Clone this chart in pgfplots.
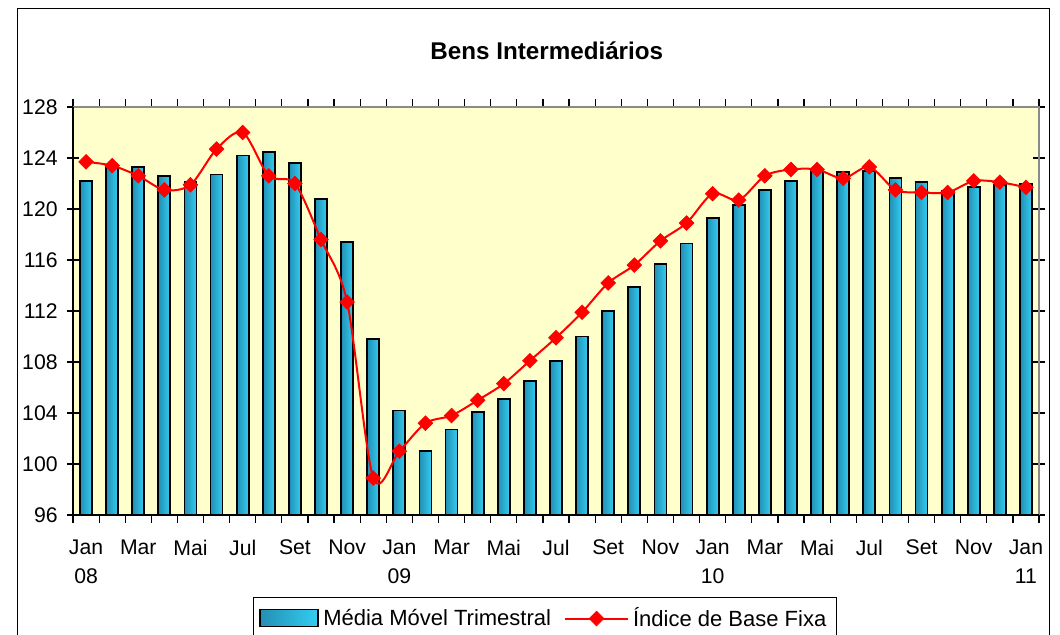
\documentclass[border=0pt]{standalone}
\usepackage{pgfplots}
\pgfplotsset{compat=1.18}
\usepackage{fontspec}
\setmainfont{Liberation Sans}
\definecolor{bgY}{HTML}{FFFFCC}
\definecolor{barD}{HTML}{2290B4}
\definecolor{barL}{HTML}{34CDF2}
\definecolor{boxG}{HTML}{8A8A8A}
\pgfplotsset{
  barleg/.style={legend image code/.code={\draw[draw=black,line width=0.9pt,left color=barD,right color=barL] (0pt,-4pt) rectangle (29pt,4.5pt);}},
  lineleg/.style={legend image code/.code={\draw[##1, mark repeat=2, mark phase=2] plot coordinates {(0pt,0pt) (15.75pt,0pt) (31.5pt,0pt)};}},
}
\begin{document}
\begin{tikzpicture}
\clip (0pt,0pt) rectangle (530pt,-317.5pt);
\draw[black, line width=0.6pt] (8.85pt,-4.15pt) rectangle (524.85pt,-340pt);
\node[font=\fontsize{12.1}{15}\selectfont\bfseries, anchor=base] at (273.4pt,-30pt) {Bens Intermediários};
\begin{axis}[
  at={(36.5pt,-257.5pt)}, anchor=south west,
  scale only axis, width=483pt, height=204pt,
  xmin=-0.5, xmax=36.5, ymin=96, ymax=128,
  clip mode=individual,
  axis background/.style={fill=bgY},
  axis line style={draw=none},
  ytick={96,100,...,128},
  xtick={0,2,...,36},
  xticklabels={Jan\\08,Mar,Mai,Jul,Set,Nov,Jan\\09,Mar,Mai,Jul,Set,Nov,Jan\\10,Mar,Mai,Jul,Set,Nov,Jan\\11},
  minor xtick={-0.5,0.5,...,36.5},
  major x tick style={draw=none},
  minor x tick style={black, line width=0.6pt},
  major y tick style={black, line width=0.6pt},
  xtick align=outside, ytick align=center,
  major tick length=6pt, minor tick length=3.75pt,
  /pgf/number format/assume math mode=true,
  tick label style={font=\fontsize{10.6}{14.5}\selectfont},
  xticklabel style={align=center, anchor=north, inner sep=0pt, yshift=-6.3pt},
  yticklabel style={anchor=east, inner sep=0pt, xshift=-4.5pt},
  legend style={at={(0.1863,-0.201)}, anchor=north west, draw=black, line width=0.5pt,
    font=\fontsize{11}{13}\selectfont, inner xsep=3pt, inner ysep=3pt,
    /tikz/every even column/.append style={column sep=4.5pt}},
  legend columns=2, legend cell align=left,
]
\addplot[scatter, only marks, mark=*, mark size=0pt, draw=none, fill=none,
  point meta=y, point meta min=96, point meta max=128,
  scatter/@pre marker code/.code={%
    \pgfmathsetmacro\barh{\pgfplotspointmetatransformed*0.204}%
    \shade[left color=barD, right color=barL] (-3pt,0pt) rectangle (3pt,-\barh pt);%
    \draw[black, line width=0.9pt] (-3pt,-\barh pt) -- (-3pt,0pt) -- (3pt,0pt) -- (3pt,-\barh pt);%
  },
  scatter/@post marker code/.code={},
  barleg]
  coordinates {(0,122.2)(1,123.3)(2,123.3)(3,122.6)(4,122.1)(5,122.7)(6,124.2)(7,124.5)(8,123.6)(9,120.8)(10,117.4)(11,109.8)(12,104.2)(13,101.0)(14,102.7)(15,104.1)(16,105.1)(17,106.5)(18,108.1)(19,110.0)(20,112.0)(21,113.9)(22,115.7)(23,117.3)(24,119.3)(25,120.3)(26,121.5)(27,122.2)(28,123.0)(29,122.9)(30,123.0)(31,122.4)(32,122.1)(33,121.4)(34,121.7)(35,121.9)(36,122.0)};
\addlegendentry{Média Móvel Trimestral}
\addplot[red, line width=1pt, smooth, mark=square*, mark size=2.6pt,
  mark options={rotate=45, solid, fill=red, draw=red, line width=0.3pt}, lineleg]
  coordinates {(0,123.7)(1,123.4)(2,122.6)(3,121.5)(4,121.9)(5,124.7)(6,126.0)(7,122.6)(8,122.0)(9,117.6)(10,112.7)(11,98.9)(12,101.0)(13,103.2)(14,103.8)(15,105.0)(16,106.3)(17,108.1)(18,109.9)(19,111.9)(20,114.2)(21,115.6)(22,117.5)(23,118.9)(24,121.2)(25,120.7)(26,122.6)(27,123.1)(28,123.1)(29,122.4)(30,123.3)(31,121.5)(32,121.3)(33,121.3)(34,122.2)(35,122.1)(36,121.7)};
\addlegendentry{Índice de Base Fixa}
\end{axis}
\draw[boxG, line width=1pt] (36.5pt,-53.5pt) -- (519.5pt,-53.5pt) -- (519.5pt,-257.5pt);
\draw[black, line width=0.9pt] (36.5pt,-53.5pt) -- (36.5pt,-257.5pt) -- (519.5pt,-257.5pt);
\end{tikzpicture}
\end{document}
